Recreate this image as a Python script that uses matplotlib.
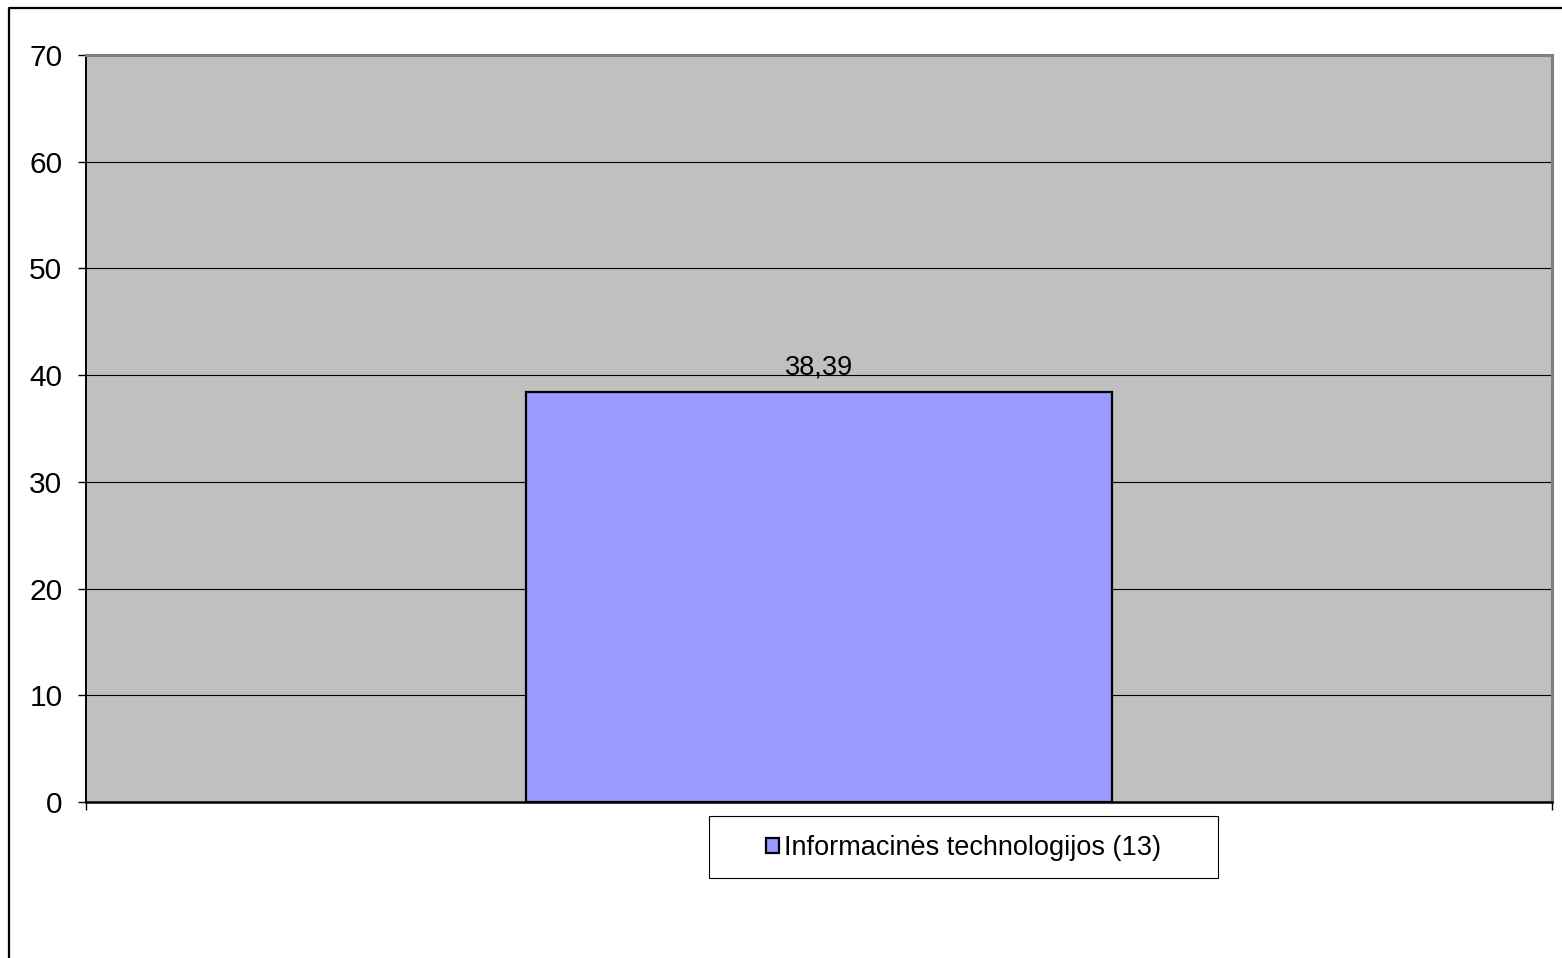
import matplotlib
matplotlib.use("Agg")
import matplotlib.pyplot as plt
from matplotlib.patches import Rectangle
from matplotlib.lines import Line2D

categories = ["Informacinės technologijos (13)"]
values = [38.39]
value_labels = ["38,39"]
yticks = [0, 10, 20, 30, 40, 50, 60, 70]

W, H = 1562, 958
fig = plt.figure(figsize=(W / 100, H / 100), dpi=100)
fig.patch.set_facecolor("white")

# outer chart frame (only top and left visible)
fig.add_artist(Line2D([9 / W, 9 / W, 1.0], [0.0, 1 - 8 / H, 1 - 8 / H],
                      transform=fig.transFigure, color="black", lw=1.6))

ax = fig.add_axes([86 / W, (H - 802) / H, 1466 / W, 747 / H])
ax.set_facecolor("#C0C0C0")
ax.set_xlim(-0.5, 0.5)
ax.set_ylim(0, 70)

ax.yaxis.grid(True, color="black", lw=0.8)
ax.set_axisbelow(True)

bars = ax.bar([0], values, width=0.4, color="#9999FF", edgecolor="black",
              lw=1.6, label=categories[0], zorder=3)

for b, lab in zip(bars, value_labels):
    ax.annotate(lab, (b.get_x() + b.get_width() / 2, b.get_height()),
                xytext=(0, 12.5), textcoords="offset points", ha="center",
                va="baseline", fontsize=19.5,
                family=["Liberation Sans", "DejaVu Sans"],
                zorder=4)

ax.set_yticks(yticks)
ax.set_yticklabels([str(t) for t in yticks], fontsize=21.5,
                   family=["Liberation Sans", "DejaVu Sans"])
ax.set_xticks([-0.5, 0.5])
ax.set_xticklabels([])
ax.tick_params(axis="y", length=6, width=1, color="black", pad=11)
ax.tick_params(axis="x", length=6, width=1, color="black", direction="out")

for s in ["top", "right"]:
    ax.spines[s].set_color("#808080")
    ax.spines[s].set_linewidth(2.2)
ax.spines["left"].set_color("black")
ax.spines["left"].set_linewidth(1.4)
ax.spines["bottom"].set_color("black")
ax.spines["bottom"].set_linewidth(1.8)

# legend box
fig.add_artist(Rectangle((709 / W, (H - 878) / H), 509 / W, 62 / H,
                         transform=fig.transFigure, facecolor="white",
                         edgecolor="black", lw=0.8))
leg = fig.legend(handles=[bars[0]], labels=categories, loc="center",
                 bbox_to_anchor=((709 + 1218) / 2 / W, 1 - 848 / H),
                 frameon=False, handlelength=0.5,
                 handleheight=0.5, handletextpad=0.2,
                 prop={"family": ["Liberation Sans", "DejaVu Sans"], "size": 19.5})

fig.savefig("out.png", dpi=100, facecolor="white")
